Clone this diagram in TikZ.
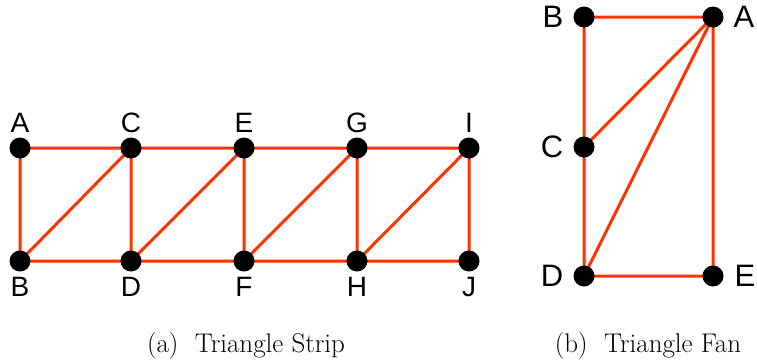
\documentclass[tikz,border=0pt]{standalone}
\usepackage{fontspec}
\newfontfamily\lbl{Liberation Sans}
\begin{document}
\begin{tikzpicture}[x=1pt,y=-1pt,
  vtx/.style={circle,fill=black,inner sep=0pt,minimum size=21pt},
  edge/.style={draw={rgb,255:red,255;green,51;blue,0},line width=3pt},
  lab/.style={font=\lbl\fontsize{28}{32}\selectfont,inner sep=0pt},
  flab/.style={font=\lbl\fontsize{31}{36}\selectfont,inner sep=0pt},
  captxt/.style={font=\fontsize{27}{32}\selectfont,inner sep=0pt}]
\useasboundingbox (0,0) rectangle (757,362);
% strip
\foreach \n/\x/\y in {A/20/148,C/131/148,E/244/148,G/357/148,I/469/148,B/20/261,D/131/261,F/244/261,H/357/261,J/469/261}
  \coordinate (s\n) at (\x,\y);
\draw[edge] (sA) -- (sI) (sB) -- (sJ) (sA) -- (sB) (sC) -- (sD) (sE) -- (sF) (sG) -- (sH) (sI) -- (sJ)
  (sB) -- (sC) (sD) -- (sE) (sF) -- (sG) (sH) -- (sI);
\foreach \n in {A,C,E,G,I}{\node[vtx] (v\n) at (s\n) {}; \node[lab] (l\n) at ([yshift=25pt]s\n) {\n};}
\foreach \n in {B,D,F,H,J}{\node[vtx] (v\n) at (s\n) {}; \node[lab] (l\n) at ([yshift=-26pt]s\n) {\n};}
% fan
\coordinate (fB) at (584,17);
\coordinate (fA) at (713,17);
\coordinate (fC) at (584,147);
\coordinate (fD) at (584,276);
\coordinate (fE) at (713,276);
\draw[edge] (fB) -- (fA) -- (fE) -- (fD) -- (fC) -- (fB) (fC) -- (fA) (fD) -- (fA);
\foreach \n in {A,B,C,D,E} \node[vtx] (fv\n) at (f\n) {};
\node[flab] (flB) at ([xshift=-31pt]fB) {B};
\node[flab] (flC) at ([xshift=-32pt]fC) {C};
\node[flab] (flD) at ([xshift=-32pt]fD) {D};
\node[flab] (flA) at ([xshift=31pt]fA) {A};
\node[flab] (flE) at ([xshift=32pt]fE) {E};
% captions
\node[captxt] (ca) at (246,346) {(a)\ \ Triangle Strip};
\node[captxt] (cb) at (648,346) {(b)\ \ Triangle Fan};
\end{tikzpicture}
\end{document}
